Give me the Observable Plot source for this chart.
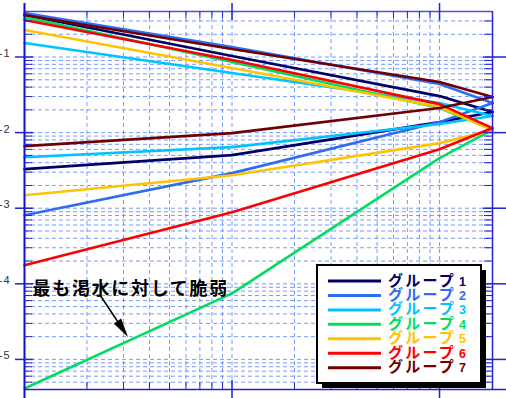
<!DOCTYPE html>
<html><head><meta charset="utf-8">
<script src="https://cdn.jsdelivr.net/npm/d3@7"></script>
<script src="https://cdn.jsdelivr.net/npm/@observablehq/plot@0.6"></script>
<style>
body{margin:0;background:#fff}
#chart{position:relative;width:506px;height:398px}
</style>
</head><body><div id="chart"></div>
<script>
// ---- data (y values are log10 exponents, as the axis labels show) ----
const xValues = [1, 10, 100, 180];
const groupLabels = ["グループ", "グループ", "グループ", "グループ", "グループ", "グループ", "グループ"];
const groupNumbers = ["1", "2", "3", "4", "5", "6", "7"];
const groupColors = ["#000066", "#2f6bf5", "#00c3ff", "#00dd5f", "#ffc400", "#ff0000", "#6e0000"];
const upperSeries = [
  [-0.444, -0.987, -1.517, -1.728],
  [-0.417, -0.868, -1.358, -1.609],
  [-0.815, -1.212, -1.609, -1.781],
  [-0.470, -1.066, -1.675, -1.960],
  [-0.642, -1.146, -1.662, -1.967],
  [-0.510, -1.040, -1.623, -1.940],
  [-0.444, -0.894, -1.331, -1.530]
];
const lowerSeries = [
  [-2.483, -2.298, -1.861, -1.728],
  [-3.093, -2.536, -1.861, -1.609],
  [-2.325, -2.192, -1.887, -1.781],
  [-5.384, -4.126, -2.338, -1.960],
  [-2.828, -2.563, -2.139, -1.967],
  [-3.755, -3.053, -2.219, -1.940],
  [-2.179, -2.007, -1.675, -1.530]
];
const yTickValues = [-1, -2, -3, -4, -5];
const xMajorTicks = [10, 100];
const annotationText = ["最も渇水に対して脆弱"];
const annotationPos = [{x: 1.093, y: -4.075}];
const arrowData = [{x1: 2.32, y1: -4.152, x2: 3.17, y2: -4.709}];

// ---- layout ----
const W = 506, H = 398, mL = 24, mR = 14, mT = 11, mB = 9;
const innerW = W - mL - mR, innerH = H - mT - mB;
const xDomain = [1, 180];
const yDomain = [Math.log10(4e-6), Math.log10(0.4)];
const gridColor = "#4a78ff";
const axisColor = "#2323cf";

const yGrid = [];
for (let n = -6; n <= -1; n++) for (let k = 1; k <= 9; k++) {
  const e = n + Math.log10(k);
  if (e > yDomain[0] + 1e-6 && e < yDomain[1] - 1e-6) yGrid.push(e);
}
const yMinor = yGrid.filter(e => Math.abs(e - Math.round(e)) > 1e-9);
const xGrid = [];
for (let n = 0; n <= 2; n++) for (let k = 1; k <= 9; k++) {
  const v = k * Math.pow(10, n);
  if (v > xDomain[0] && v < xDomain[1]) xGrid.push(v);
}
const xMinor = xGrid.filter(v => !xMajorTicks.includes(v));

const lineMarks = [];
groupColors.forEach((c, i) => {
  const up = xValues.map((x, j) => ({x, y: upperSeries[i][j]}));
  const lo = xValues.map((x, j) => ({x, y: lowerSeries[i][j]}));
  lineMarks.push(Plot.line(up, {x: "x", y: "y", stroke: c, strokeWidth: 2.6}));
  lineMarks.push(Plot.line(lo, {x: "x", y: "y", stroke: c, strokeWidth: 2.6}));
});

const plot = Plot.plot({
  width: W, height: H,
  marginLeft: mL, marginRight: mR, marginTop: mT, marginBottom: mB,
  x: {type: "log", domain: xDomain, axis: null},
  y: {type: "linear", domain: yDomain, axis: null},
  style: {background: "#fff", overflow: "visible"},
  marks: [
    Plot.ruleY(yGrid, {y: d => d, stroke: gridColor, strokeWidth: 1, strokeDasharray: "4,3", strokeOpacity: 0.75}),
    Plot.ruleX(xGrid, {x: d => d, stroke: gridColor, strokeWidth: 1, strokeDasharray: "4,3", strokeOpacity: 0.75}),
    ...lineMarks,
    // frame
    Plot.ruleX([xDomain[1]], {x: d => d, stroke: axisColor, strokeWidth: 1.5}),
    Plot.ruleY([yDomain[1]], {y: d => d, stroke: axisColor, strokeWidth: 1.5, strokeOpacity: 0.8}),
    Plot.ruleY([yDomain[0]], {y: d => d, stroke: axisColor, strokeWidth: 1.5, insetRight: -14}),
    Plot.ruleX([xDomain[0]], {x: d => d, stroke: "#1010c8", strokeWidth: 2, insetTop: -8, insetBottom: -9}),
    // y ticks
    Plot.ruleY(yMinor, {y: d => d, stroke: axisColor, insetRight: innerW - 8}),
    Plot.ruleY(yTickValues, {y: d => d, stroke: axisColor, strokeWidth: 1.5, insetLeft: -9, insetRight: innerW - 9}),
    Plot.ruleY(yMinor, {y: d => d, stroke: axisColor, insetLeft: innerW - 8}),
    Plot.ruleY(yTickValues, {y: d => d, stroke: axisColor, strokeWidth: 1.5, insetLeft: innerW - 9, insetRight: -14}),
    // x ticks
    Plot.ruleX(xMinor, {x: d => d, stroke: axisColor, insetBottom: innerH - 7}),
    Plot.ruleX(xMajorTicks, {x: d => d, stroke: axisColor, strokeWidth: 1.5, insetTop: -8, insetBottom: innerH - 9}),
    Plot.ruleX(xMinor, {x: d => d, stroke: axisColor, insetTop: innerH - 7}),
    Plot.ruleX(xMajorTicks, {x: d => d, stroke: axisColor, strokeWidth: 1.5, insetTop: innerH - 9, insetBottom: -9}),
    // y labels
    Plot.text(yTickValues, {y: d => d, text: d => String(d), frameAnchor: "left", textAnchor: "end", dx: -14, dy: -3.5,
      fontSize: 11, fill: "#333", fontFamily: "Liberation Sans, Arial, sans-serif"}),
    // annotation
    Plot.text(annotationPos, {x: "x", y: "y", text: (d, i) => annotationText[i], textAnchor: "start",
      fontSize: 18, fontWeight: "bold", fill: "#000", fontFamily: "Noto Sans CJK JP"})
  ]
});
document.getElementById("chart").appendChild(plot);

const svg = d3.select(plot);
svg.selectAll("text").filter(function(){ return this.textContent === annotationText[0]; })
  .style("letter-spacing", "1.7px");
svg.selectAll("text").filter(function(){ return /^-\d$/.test(this.textContent); })
  .style("letter-spacing", "1px");

// arrow with filled head, positioned through the plot's scales
const sx = plot.scale("x"), sy = plot.scale("y");
const fx = sx.apply ? (v => sx.apply(v)) : d3.scaleLog(sx.domain, sx.range);
const fy = sy.apply ? (v => sy.apply(v)) : d3.scaleLinear(sy.domain, sy.range);
arrowData.forEach(a => {
  const x1 = fx(a.x1), y1 = fy(a.y1), x2 = fx(a.x2), y2 = fy(a.y2);
  const dx = x2 - x1, dy = y2 - y1, len = Math.hypot(dx, dy);
  const ux = dx / len, uy = dy / len, hl = 19, hw = 4.5;
  const bx = x2 - ux * hl, by = y2 - uy * hl;
  svg.append("line").attr("x1", x1).attr("y1", y1).attr("x2", bx).attr("y2", by)
    .attr("stroke", "#000").attr("stroke-width", 1.6);
  svg.append("path")
    .attr("d", `M${x2},${y2}L${bx - uy * hw},${by + ux * hw}L${bx + uy * hw},${by - ux * hw}Z`)
    .attr("fill", "#000");
});

// legend box
const lg = svg.append("g").attr("text-anchor", "start");
const bx0 = 317, by0 = 265, bw = 164, bh = 118;
lg.append("rect").attr("x", bx0 + 5).attr("y", by0 + 5).attr("width", bw).attr("height", bh).attr("fill", "#000");
lg.append("rect").attr("x", bx0).attr("y", by0).attr("width", bw).attr("height", bh)
  .attr("fill", "#fff").attr("stroke", "#000").attr("stroke-width", 2);
groupColors.forEach((c, i) => {
  const cy = 281 + i * 14.45;
  lg.append("line").attr("x1", 328).attr("x2", 381).attr("y1", cy).attr("y2", cy)
    .attr("stroke", c).attr("stroke-width", 3);
  lg.append("text").attr("x", 388).attr("y", cy + 4.5).attr("fill", c).attr("text-anchor", "start")
    .attr("font-family", "Noto Sans CJK JP").attr("font-weight", "bold").attr("font-size", 15)
    .style("letter-spacing", "2.2px").text(groupLabels[i]);
  lg.append("text").attr("x", 459).attr("y", cy + 4.5).attr("fill", c).attr("text-anchor", "start")
    .attr("font-family", "Liberation Sans, Arial, sans-serif").attr("font-weight", "bold").attr("font-size", 12.5)
    .text(groupNumbers[i]);
});
</script>
</body></html>
